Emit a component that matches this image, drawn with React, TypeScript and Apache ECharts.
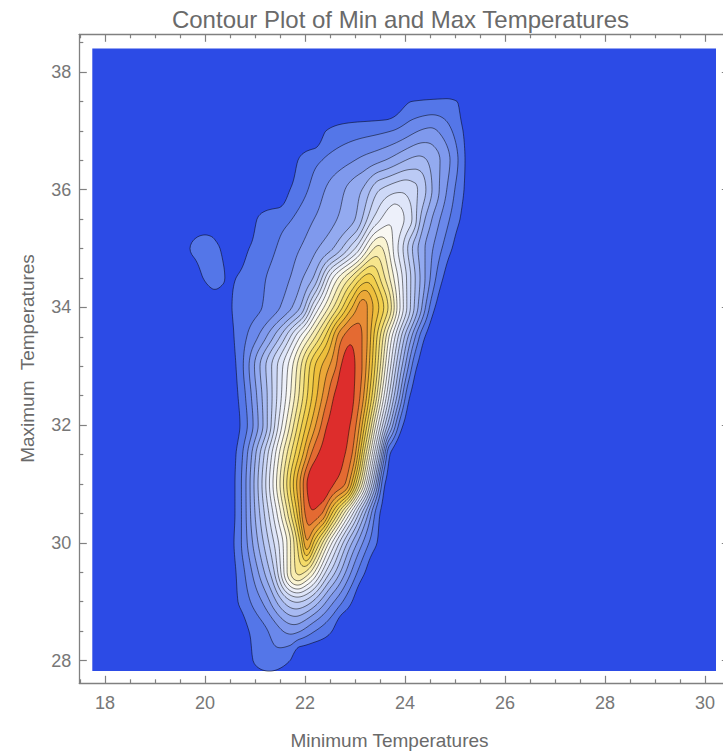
import React, { useEffect, useRef } from "react";
import * as echarts from "echarts";

const TITLE = "Contour Plot of Min and Max Temperatures";
const X_NAME = "Minimum Temperatures";
const Y_NAME = "Maximum  Temperatures";

// frame (axis) ranges and the coloured plot range inside it
const FRAME_X = [17.486, 30.486];
const FRAME_Y = [27.613, 38.64];
const PLOT_X = [17.746, 30.22];
const PLOT_Y = [27.82, 38.4];

const X_MAJOR = [18, 20, 22, 24, 26, 28, 30];
const X_MINOR = [17.5, 18.5, 19, 19.5, 20.5, 21, 21.5, 22.5, 23, 23.5, 24.5, 25, 25.5, 26.5, 27, 27.5, 28.5, 29, 29.5];
const Y_MAJOR = [28, 30, 32, 34, 36, 38];
const Y_MINOR = [28.5, 29, 29.5, 30.5, 31, 31.5, 32.5, 33, 33.5, 34.5, 35, 35.5, 36.5, 37, 37.5, 38.5];

// contour levels (band k = region where the density level >= k)
const LEVELS = [1, 2, 3, 4, 5, 6, 7, 8, 9, 10, 11, 12, 13, 14, 15, 16, 17, 18, 19, 20];
const BAND_COLORS = [
  "#2c4be6", "#5476e8", "#6a88eb", "#7f99ed", "#93aaf0", "#a7baf2", "#bbcaf5",
  "#cdd8f7", "#dee5f9", "#edf0fa", "#f9f8f2", "#faf4d2", "#f8edb0", "#f6e58c",
  "#f4db68", "#f1ce4c", "#eebf3c", "#eba838", "#e88c36", "#e46a32", "#dd2d2c",
];

// level profiles read along horizontal rows (max temperature), knots = [min temperature, level]
const ROW_Y = [27.5, 28, 28.5, 29, 29.5, 30, 30.5, 31, 31.5, 32, 32.5, 33, 33.5, 34, 34.5, 35, 35.5, 36, 36.5, 37, 37.5, 38];
const ROW_KNOTS: number[][][] = [
  [],
  [[20.76, 0], [20.96, 1], [21.34, 1.6], [21.7, 1], [21.9, 0]],
  [[20.64, 0], [20.88, 1], [21.26, 2], [21.74, 3.3], [22.2, 2], [22.54, 1], [22.78, 0]],
  [[20.42, 0], [20.66, 1], [21.14, 3], [21.84, 7.1], [22.58, 3], [22.94, 1], [23.18, 0]],
  [[20.38, 0], [20.62, 1], [21.3, 6], [21.9, 13.3], [22.5, 7], [23.2, 1], [23.44, 0]],
  [[20.34, 0], [20.58, 1], [21.06, 5], [21.56, 10], [21.9, 15], [22.04, 17.8], [22.2, 15.5], [22.54, 10], [22.94, 5], [23.44, 1], [23.7, 0]],
  [[20.34, 0], [20.6, 1], [21.0, 5], [21.44, 10], [21.84, 16], [22.0, 19], [22.14, 19.8], [22.34, 19], [22.54, 16], [22.9, 10], [23.2, 5], [23.5, 1], [23.76, 0]],
  [[20.34, 0], [20.6, 1], [21.06, 6], [21.5, 12], [21.9, 18], [22.04, 20], [22.18, 21], [22.34, 20.9], [22.58, 20], [22.8, 19], [23.1, 13], [23.38, 6], [23.6, 1], [23.86, 0]],
  [[20.36, 0], [20.62, 1], [21.1, 6], [21.56, 12], [21.96, 17], [22.12, 19], [22.26, 20], [22.54, 20.8], [22.8, 20], [22.94, 19], [23.22, 13], [23.46, 7], [23.7, 1], [23.94, 0]],
  [[20.46, 0], [20.7, 1], [21.16, 5], [21.54, 10], [22.02, 16], [22.32, 19], [22.44, 20], [22.68, 20.8], [22.9, 20], [23.02, 19], [23.24, 15], [23.46, 10], [23.7, 5], [23.96, 1], [24.2, 0]],
  [[20.42, 0], [20.66, 1], [21.14, 5], [21.62, 10], [22.14, 16], [22.46, 19], [22.58, 20], [22.8, 20.9], [22.98, 20], [23.1, 19], [23.34, 15], [23.58, 10], [23.84, 5], [24.1, 1], [24.34, 0]],
  [[20.38, 0], [20.62, 1], [21.1, 5], [21.66, 10], [22.2, 16], [22.62, 19], [22.72, 20], [22.86, 20.6], [23.0, 20], [23.14, 19], [23.4, 15], [23.66, 10], [23.94, 5], [24.24, 1], [24.48, 0]],
  [[20.34, 0], [20.58, 1], [21.06, 3], [21.5, 6], [21.9, 10], [22.4, 15], [22.76, 19], [22.94, 19.7], [23.14, 19], [23.44, 15], [23.74, 10], [24.06, 5], [24.4, 1], [24.64, 0]],
  [[20.3, 0], [20.54, 1], [21.14, 2], [21.5, 3], [21.9, 5], [22.2, 9], [22.66, 14], [22.94, 17], [23.14, 18.5], [23.36, 17], [23.66, 14], [23.9, 10], [24.26, 5], [24.6, 1], [24.84, 0]],
  [[19.76, 0], [19.96, 1], [20.2, 1.5], [20.38, 1.05], [20.46, 0.85], [20.62, 1], [21.22, 2], [21.7, 3], [21.96, 4], [22.16, 5], [22.56, 10], [22.9, 13], [23.26, 15.5], [23.6, 13], [23.86, 10], [24.3, 5], [24.76, 1], [25.0, 0]],
  [[19.46, 0], [19.7, 1], [20.0, 1.8], [20.3, 1], [20.58, 0.3], [20.88, 1], [21.42, 2], [21.9, 3], [22.26, 4], [22.56, 5], [23.0, 8], [23.46, 12.3], [23.86, 9], [24.26, 5], [24.94, 1], [25.18, 0]],
  [[20.8, 0], [21.04, 1], [21.74, 2], [22.18, 3], [22.64, 4], [23.0, 5], [23.4, 8.3], [23.74, 9.8], [24.1, 8.3], [24.4, 5], [25.1, 1], [25.34, 0]],
  [[21.46, 0], [21.7, 1], [22.06, 2], [22.4, 3], [22.8, 4], [23.14, 5], [23.5, 7], [23.94, 7.8], [24.3, 6.8], [24.54, 5], [25.18, 1], [25.42, 0]],
  [[21.62, 0], [21.86, 1], [22.34, 2], [23.0, 3], [23.6, 4], [24.26, 5.3], [24.7, 4], [24.9, 3], [25.06, 2], [25.2, 1], [25.44, 0]],
  [[22.18, 0], [22.42, 1], [23.74, 2], [24.5, 3.2], [24.94, 2], [25.16, 1], [25.4, 0]],
  [[23.6, 0], [24.14, 1], [24.8, 1.12], [25.04, 1], [25.24, 0]],
  [],
];

const FONT = '"Liberation Sans", Arial, Helvetica, sans-serif';
const FRAME_COLOR = "#808080";
const LABEL_COLOR = "#777777";
const LINE_COLOR = "rgba(0,0,0,0.5)";

type Shape = { pts: number[][]; fill: string; stroke: string };

// monotone cubic (Fritsch-Carlson) slopes
function pchipSlopes(xs: number[], ys: number[]): number[] {
  const n = xs.length;
  const m = new Array(n).fill(0);
  if (n < 2) return m;
  const d: number[] = [];
  const h: number[] = [];
  for (let k = 0; k < n - 1; k++) {
    h.push(xs[k + 1] - xs[k]);
    d.push((ys[k + 1] - ys[k]) / (xs[k + 1] - xs[k]));
  }
  for (let k = 1; k < n - 1; k++) {
    if (d[k - 1] * d[k] <= 0) m[k] = 0;
    else {
      const w1 = 2 * h[k] + h[k - 1];
      const w2 = h[k] + 2 * h[k - 1];
      m[k] = (w1 + w2) / (w1 / d[k - 1] + w2 / d[k]);
    }
  }
  return m;
}

function hermite(xs: number[], ys: number[], m: number[], x: number): number {
  const n = xs.length;
  if (n < 2 || x <= xs[0] || x >= xs[n - 1]) return 0;
  let k = 0;
  while (k < n - 2 && x > xs[k + 1]) k++;
  const hh = xs[k + 1] - xs[k];
  const t = (x - xs[k]) / hh;
  const t2 = t * t, t3 = t2 * t;
  return (2 * t3 - 3 * t2 + 1) * ys[k] + (t3 - 2 * t2 + t) * hh * m[k] + (-2 * t3 + 3 * t2) * ys[k + 1] + (t3 - t2) * hh * m[k + 1];
}

function buildShapes(): Shape[] {
  const GX0 = 19.2, DX = 0.02, NX = 331;
  const GY0 = 27.5, DY = 0.05, NY = 211;
  const R = ROW_Y.length;
  const rowVals = ROW_KNOTS.map((k) => {
    const a = new Float64Array(NX);
    if (!k.length) return a;
    const xs = k.map((p) => p[0]);
    const vs = k.map((p) => p[1]);
    const ms = pchipSlopes(xs, vs);
    for (let i = 0; i < NX; i++) a[i] = Math.max(0, hermite(xs, vs, ms, GX0 + i * DX));
    return a;
  });
  const F = new Float64Array(NX * NY);
  for (let i = 0; i < NX; i++) {
    const col = rowVals.map((a) => a[i]);
    const ms = pchipSlopes(ROW_Y, col);
    for (let j = 0; j < NY; j++) {
      const y = GY0 + j * DY;
      let v: number;
      if (y <= ROW_Y[0]) v = col[0];
      else if (y >= ROW_Y[R - 1]) v = col[R - 1];
      else {
        let k = 0;
        while (k < R - 2 && y > ROW_Y[k + 1]) k++;
        const hh = ROW_Y[k + 1] - ROW_Y[k];
        const t = (y - ROW_Y[k]) / hh;
        const t2 = t * t, t3 = t2 * t;
        v = (2 * t3 - 3 * t2 + 1) * col[k] + (t3 - 2 * t2 + t) * hh * ms[k] + (-2 * t3 + 3 * t2) * col[k + 1] + (t3 - t2) * hh * ms[k + 1];
      }
      F[j * NX + i] = Math.max(0, v);
    }
  }

  const nEdges = 2 * NX * NY;
  const loopsAt = (th: number): number[][][] => {
    const nb = new Int32Array(nEdges * 2).fill(-1);
    const link = (a: number, b: number) => {
      if (nb[2 * a] < 0) nb[2 * a] = b; else nb[2 * a + 1] = b;
      if (nb[2 * b] < 0) nb[2 * b] = a; else nb[2 * b + 1] = a;
    };
    for (let j = 0; j < NY - 1; j++) {
      for (let i = 0; i < NX - 1; i++) {
        const v00 = F[j * NX + i], v10 = F[j * NX + i + 1];
        const v01 = F[(j + 1) * NX + i], v11 = F[(j + 1) * NX + i + 1];
        const c = (v00 >= th ? 1 : 0) | (v10 >= th ? 2 : 0) | (v11 >= th ? 4 : 0) | (v01 >= th ? 8 : 0);
        if (c === 0 || c === 15) continue;
        const B = 2 * (j * NX + i);
        const T = 2 * ((j + 1) * NX + i);
        const L = 2 * (j * NX + i) + 1;
        const Rr = 2 * (j * NX + i + 1) + 1;
        switch (c) {
          case 1: case 14: link(L, B); break;
          case 2: case 13: link(B, Rr); break;
          case 3: case 12: link(L, Rr); break;
          case 4: case 11: link(Rr, T); break;
          case 6: case 9: link(B, T); break;
          case 7: case 8: link(L, T); break;
          case 5: {
            const m = (v00 + v10 + v11 + v01) / 4;
            if (m >= th) { link(B, Rr); link(T, L); } else { link(L, B); link(Rr, T); }
            break;
          }
          case 10: {
            const m = (v00 + v10 + v11 + v01) / 4;
            if (m >= th) { link(L, B); link(Rr, T); } else { link(B, Rr); link(T, L); }
            break;
          }
        }
      }
    }
    const pt = (e: number): number[] => {
      const idx = e >> 1;
      const j = Math.floor(idx / NX), i = idx - j * NX;
      if ((e & 1) === 0) {
        const va = F[idx], vb = F[idx + 1];
        const f = (th - va) / (vb - va);
        return [GX0 + (i + f) * DX, Math.max(PLOT_Y[0], GY0 + j * DY)];
      }
      const va = F[idx], vb = F[idx + NX];
      const f = (th - va) / (vb - va);
      return [GX0 + i * DX, Math.max(PLOT_Y[0], GY0 + (j + f) * DY)];
    };
    const visited = new Uint8Array(nEdges);
    const loops: number[][][] = [];
    for (let e = 0; e < nEdges; e++) {
      if (visited[e] || nb[2 * e] < 0) continue;
      const pts: number[][] = [];
      let prev = -1, cur = e;
      while (cur >= 0 && !visited[cur]) {
        visited[cur] = 1;
        pts.push(pt(cur));
        const n1 = nb[2 * cur], n2 = nb[2 * cur + 1];
        const next = n1 !== prev ? n1 : n2;
        prev = cur;
        cur = next;
      }
      if (pts.length > 2) loops.push(pts);
    }
    return loops;
  };

  const shapes: Shape[] = [
    {
      pts: [[PLOT_X[0], PLOT_Y[0]], [PLOT_X[1], PLOT_Y[0]], [PLOT_X[1], PLOT_Y[1]], [PLOT_X[0], PLOT_Y[1]]],
      fill: BAND_COLORS[0],
      stroke: "none",
    },
  ];
  LEVELS.forEach((k) => {
    loopsAt(k).forEach((pts) => shapes.push({ pts, fill: BAND_COLORS[k], stroke: LINE_COLOR }));
  });
  return shapes;
}

function xAxisDef(position: string, ticks: number[], len: number, showLine: boolean, labels: number[] | null) {
  return {
    type: "value",
    position,
    min: FRAME_X[0],
    max: FRAME_X[1],
    axisLine: { show: showLine, onZero: false, lineStyle: { color: FRAME_COLOR, width: 1.3 } },
    axisTick: { show: true, inside: true, length: len, customValues: ticks, lineStyle: { color: FRAME_COLOR, width: 1.2 } },
    axisLabel: labels
      ? { show: true, customValues: labels, color: LABEL_COLOR, fontSize: 18, fontFamily: FONT, margin: 11 }
      : { show: false },
    splitLine: { show: false },
    axisPointer: { show: false },
  };
}

function yAxisDef(position: string, ticks: number[], len: number, showLine: boolean, labels: number[] | null) {
  return {
    type: "value",
    position,
    min: FRAME_Y[0],
    max: FRAME_Y[1],
    axisLine: { show: showLine, onZero: false, lineStyle: { color: FRAME_COLOR, width: 1.3 } },
    axisTick: { show: true, inside: true, length: len, customValues: ticks, lineStyle: { color: FRAME_COLOR, width: 1.2 } },
    axisLabel: labels
      ? { show: true, customValues: labels, color: LABEL_COLOR, fontSize: 18, fontFamily: FONT, margin: 8 }
      : { show: false },
    splitLine: { show: false },
    axisPointer: { show: false },
  };
}

export default function App() {
  const ref = useRef<HTMLDivElement>(null);
  useEffect(() => {
    if (!ref.current) return;
    const chart = echarts.init(ref.current, null, { renderer: "svg" });
    const shapes = buildShapes();
    chart.setOption({
      animation: false,
      grid: {
        left: 79.3,
        top: 34.3,
        width: 650,
        height: 649,
        containLabel: false,
        outerBoundsMode: "none",
      },
      xAxis: [
        xAxisDef("bottom", X_MAJOR, 7.5, true, X_MAJOR),
        xAxisDef("bottom", X_MINOR, 4, false, null),
        xAxisDef("top", X_MAJOR, 7.5, true, null),
        xAxisDef("top", X_MINOR, 4, false, null),
      ],
      yAxis: [
        yAxisDef("left", Y_MAJOR, 7.5, true, Y_MAJOR),
        yAxisDef("left", Y_MINOR, 4, false, null),
        yAxisDef("right", Y_MAJOR, 7.5, true, null),
        yAxisDef("right", Y_MINOR, 4, false, null),
      ],
      series: [
        {
          type: "custom",
          xAxisIndex: 0,
          yAxisIndex: 0,
          silent: true,
          clip: false,
          data: shapes.map((_, i) => [i, 0]),
          renderItem: (params: any, api: any) => {
            const s = shapes[params.dataIndex];
            return {
              type: "polygon",
              shape: { points: s.pts.map((p) => api.coord(p)) },
              style: { fill: s.fill, stroke: s.stroke, lineWidth: 1 },
              silent: true,
            };
          },
        },
      ],
      graphic: [
        {
          type: "text",
          x: 400.5,
          y: 19.5,
          style: { text: TITLE, fill: "#6a6a6a", fontSize: 24, fontFamily: FONT, align: "center", verticalAlign: "middle" },
        },
        {
          type: "text",
          x: 389.5,
          y: 740,
          style: { text: X_NAME, fill: "#6a6a6a", fontSize: 19, fontFamily: FONT, align: "center", verticalAlign: "middle" },
        },
        {
          type: "text",
          x: 27.3,
          y: 358.5,
          rotation: Math.PI / 2,
          style: { text: Y_NAME, fill: "#6a6a6a", fontSize: 19, fontFamily: FONT, align: "center", verticalAlign: "middle" },
        },
      ],
    });
    return () => chart.dispose();
  }, []);
  return <div ref={ref} style={{ position: "fixed", left: 0, top: 0, width: 723, height: 752, background: "#ffffff" }} />;
}
